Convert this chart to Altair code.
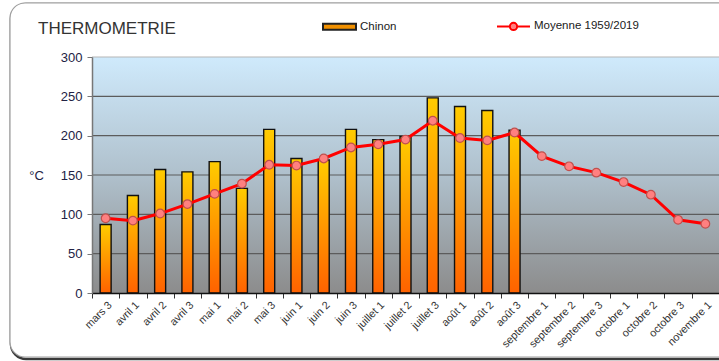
import altair as alt
import pandas as pd

# Ten-day periods (décades) shown on the x axis
decades = [
    "mars 3", "avril 1", "avril 2", "avril 3", "mai 1", "mai 2", "mai 3",
    "juin 1", "juin 2", "juin 3", "juillet 1", "juillet 2", "juillet 3",
    "août 1", "août 2", "août 3", "septembre 1", "septembre 2", "septembre 3",
    "octobre 1", "octobre 2", "octobre 3", "novembre 1",
]
# Chinon, current season (only measured up to août 3)
chinon = [87, 124, 157, 154, 167, 133, 208, 171, 169, 208, 195, 199, 248,
          237, 232, 207]
# Long-term mean 1959/2019
moyenne = [95, 92, 101, 113, 126, 139, 163, 162, 171, 185, 189, 195, 219,
           197, 194, 204, 174, 161, 153, 141, 125, 93, 88]
y_ticks = [0, 50, 100, 150, 200, 250, 300]
series = ["Chinon", "Moyenne 1959/2019"]

df = pd.DataFrame({
    "decade": decades,
    "chinon": chinon + [None] * (len(decades) - len(chinon)),
    "moyenne": moyenne,
})
grid_df = pd.DataFrame({"v": y_ticks[1:]})

W, H = 627, 236
FONT = "Liberation Sans"

x_enc = alt.X(
    "decade:N", sort=decades,
    scale=alt.Scale(paddingInner=0, paddingOuter=0),
    axis=alt.Axis(
        title=None, labelAngle=-45, labelFontSize=10.8, labelColor="#333333",
        labelFont=FONT, tickBand="extent", tickSize=5, tickColor="#333333",
        domainColor="#111111", domainWidth=1.5, labelPadding=1, grid=False,
        labelOverlap=False, zindex=1,
    ),
)
y_scale = alt.Scale(domain=[0, 300], nice=False)
# One shared y axis definition for every layer that uses the y scale
y_axis = alt.Axis(
    values=y_ticks, tickCount=7, title="°C", titleAngle=0, titleX=-56,
    titleY=118, titleAlign="center", titleBaseline="middle", titleFontSize=13,
    titleFontWeight="normal", titleFont=FONT, titleColor="#222244",
    labelFontSize=13, labelFont=FONT, labelColor="#222244",
    labelPadding=5, tickSize=5, tickColor="#777777",
    domainColor="#777777", domainWidth=1.5, grid=False,
    labelOverlap=False, labelFlush=False, zindex=1,
)

bar_fill = alt.LinearGradient(
    gradient="linear", x1=0, y1=0, x2=0, y2=1,
    stops=[alt.GradientStop(offset=0, color="#ffcc00"),
           alt.GradientStop(offset=1, color="#ff6200")],
)
plot_fill = alt.LinearGradient(
    gradient="linear", x1=0, y1=0, x2=0, y2=1,
    stops=[alt.GradientStop(offset=0, color="#cfeafc"),
           alt.GradientStop(offset=0.5, color="#afc0cc"),
           alt.GradientStop(offset=1, color="#8c8c8c")],
)

one = alt.Data(values=[{"k": 0}])

# Rounded frame around the whole figure, with a darker shadow edge
shadow = alt.Chart(one).mark_rect(
    cornerRadius=15, fill="#ffffff", stroke="#3a3a3a", strokeWidth=2.5
).encode(x=alt.value(-81), x2=alt.value(W + 40),
         y=alt.value(-53), y2=alt.value(302))
frame = alt.Chart(one).mark_rect(
    cornerRadius=15, fill="#ffffff", stroke="#a0a0a0", strokeWidth=1.2
).encode(x=alt.value(-82), x2=alt.value(W + 40),
         y=alt.value(-54), y2=alt.value(300))

# Plot area background
backdrop = alt.Chart(one).mark_rect(fill=plot_fill).encode(
    x=alt.value(0), x2=alt.value(W), y=alt.value(0), y2=alt.value(H)
)

# Horizontal gridlines, lighter at the top edge of the plot
grid = alt.Chart(grid_df).mark_rule(strokeWidth=1.2).encode(
    y=alt.Y("v:Q", scale=y_scale, axis=y_axis),
    color=alt.condition("datum.v == 300", alt.value("#b5b5b5"),
                        alt.value("#5c5c5c")),
)

bars = alt.Chart(df).mark_bar(
    size=11, fill=bar_fill, stroke="#111111", strokeWidth=1.4
).encode(
    x=x_enc,
    y=alt.Y("chinon:Q", scale=y_scale, axis=y_axis),
)

line = alt.Chart(df).mark_line(color="#ff0000", strokeWidth=3).encode(
    x=x_enc, y=alt.Y("moyenne:Q", scale=y_scale, axis=y_axis)
)
dots = alt.Chart(df).mark_point(
    filled=True, shape="circle", size=75, fill="#ff8080", stroke="#c0504d",
    strokeWidth=1.2, opacity=1
).encode(x=x_enc, y=alt.Y("moyenne:Q", scale=y_scale, axis=y_axis))

# Legend carrier: bar swatch for Chinon, line-with-dot for the mean
legend_def = alt.Legend(
    orient="none", legendX=230, legendY=-48.5, direction="horizontal",
    title=None, symbolSize=1089, symbolStrokeWidth=2, symbolOpacity=1,
    labelFontSize=11.5, labelFont=FONT, labelColor="#1a1a1a",
    columnPadding=96, labelOffset=3, padding=0,
)
leg = alt.Chart(
    alt.Data(values=[{"serie": s} for s in series])
).mark_point(filled=True, opacity=0).encode(
    fill=alt.Fill("serie:N", scale=alt.Scale(domain=series,
                  range=["#f29100", "#ff8080"]), legend=legend_def),
    stroke=alt.Stroke("serie:N", scale=alt.Scale(domain=series,
                      range=["#222222", "#ff0000"]), legend=legend_def),
    shape=alt.Shape("serie:N", scale=alt.Scale(domain=series, range=[
        "M-1,-0.18H1V0.18H-1Z",
        "M-1,0H-0.22M0.22,0H1M-0.22,0A0.22,0.22,0,1,1,0.22,0"
        "A0.22,0.22,0,1,1,-0.22,0Z",
    ]), legend=legend_def),
)

title = alt.Chart(one).mark_text(
    text="THERMOMETRIE", align="left", baseline="alphabetic",
    font=FONT, fontSize=17, color="#333333"
).encode(x=alt.value(-54), y=alt.value(-23))

chart = alt.layer(
    shadow, frame, backdrop, grid, bars, line, dots, leg, title
).properties(
    width=W, height=H,
    autosize=alt.AutoSizeParams(type="none"),
    padding={"left": 92, "top": 57, "right": 0, "bottom": 68},
).configure_view(stroke=None).configure(background="#ffffff")

chart.save("out.html", embed_options={"renderer": "svg", "actions": False})
